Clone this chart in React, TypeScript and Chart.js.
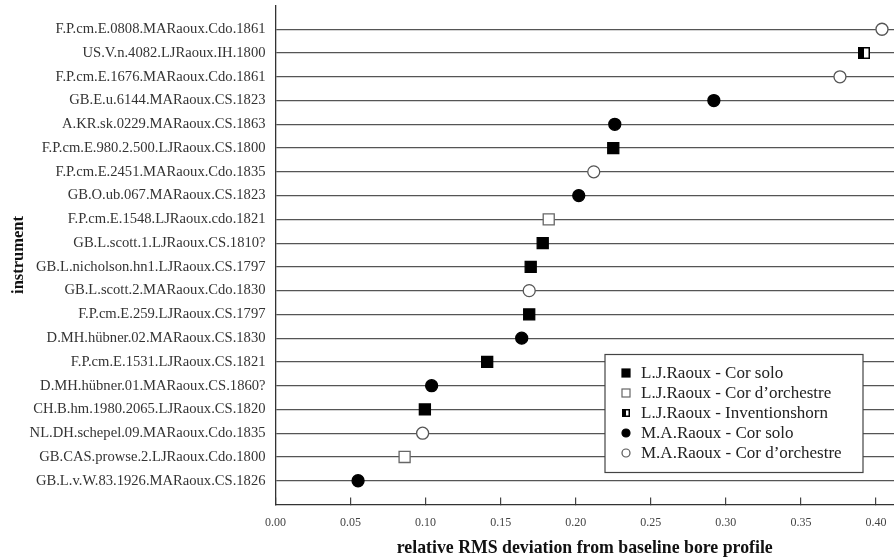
import React, { useEffect, useRef } from 'react';
import { Chart, registerables } from 'chart.js';

Chart.register(...registerables);

const instruments = [
  'F.P.cm.E.0808.MARaoux.Cdo.1861',
  'US.V.n.4082.LJRaoux.IH.1800',
  'F.P.cm.E.1676.MARaoux.Cdo.1861',
  'GB.E.u.6144.MARaoux.CS.1823',
  'A.KR.sk.0229.MARaoux.CS.1863',
  'F.P.cm.E.980.2.500.LJRaoux.CS.1800',
  'F.P.cm.E.2451.MARaoux.Cdo.1835',
  'GB.O.ub.067.MARaoux.CS.1823',
  'F.P.cm.E.1548.LJRaoux.cdo.1821',
  'GB.L.scott.1.LJRaoux.CS.1810?',
  'GB.L.nicholson.hn1.LJRaoux.CS.1797',
  'GB.L.scott.2.MARaoux.Cdo.1830',
  'F.P.cm.E.259.LJRaoux.CS.1797',
  'D.MH.hübner.02.MARaoux.CS.1830',
  'F.P.cm.E.1531.LJRaoux.CS.1821',
  'D.MH.hübner.01.MARaoux.CS.1860?',
  'CH.B.hm.1980.2065.LJRaoux.CS.1820',
  'NL.DH.schepel.09.MARaoux.Cdo.1835',
  'GB.CAS.prowse.2.LJRaoux.Cdo.1800',
  'GB.L.v.W.83.1926.MARaoux.CS.1826',
];

const deviations = [
  0.404, 0.392, 0.376, 0.292, 0.226, 0.225, 0.212, 0.202, 0.182, 0.178,
  0.170, 0.169, 0.169, 0.164, 0.141, 0.104, 0.0995, 0.098, 0.086, 0.055,
];

// index into seriesLabels for each instrument
const groups = [4, 2, 4, 3, 3, 0, 4, 3, 1, 0, 0, 4, 0, 3, 0, 3, 0, 4, 1, 3];

const seriesLabels = [
  'L.J.Raoux - Cor solo',
  'L.J.Raoux - Cor d’orchestre',
  'L.J.Raoux - Inventionshorn',
  'M.A.Raoux - Cor solo',
  'M.A.Raoux - Cor d’orchestre',
];

const xTicks = [0, 0.05, 0.1, 0.15, 0.2, 0.25, 0.3, 0.35, 0.4];

const FONT = '"Liberation Serif", "DejaVu Serif", serif';

type Style = { shape: 'rect' | 'circle' | 'half'; fill: string; stroke: string };
const seriesStyles: Style[] = [
  { shape: 'rect', fill: '#000', stroke: '#000' },
  { shape: 'rect', fill: '#fff', stroke: '#666' },
  { shape: 'half', fill: '#000', stroke: '#000' },
  { shape: 'circle', fill: '#000', stroke: '#000' },
  { shape: 'circle', fill: '#fff', stroke: '#555' },
];

function makeHalfSquare(size: number): HTMLCanvasElement {
  const c = document.createElement('canvas');
  c.width = size;
  c.height = size;
  const g = c.getContext('2d')!;
  g.fillStyle = '#fff';
  g.fillRect(0, 0, size, size);
  g.fillStyle = '#000';
  g.fillRect(0, 0, size / 2, size);
  g.strokeStyle = '#000';
  g.lineWidth = 1.5;
  g.strokeRect(0.75, 0.75, size - 1.5, size - 1.5);
  return c;
}

function drawMarker(ctx: CanvasRenderingContext2D, st: Style, x: number, y: number, s: number, half: HTMLCanvasElement) {
  ctx.save();
  ctx.lineWidth = 1.2;
  ctx.fillStyle = st.fill;
  ctx.strokeStyle = st.stroke;
  if (st.shape === 'rect') {
    ctx.fillRect(x - s / 2, y - s / 2, s, s);
    ctx.strokeRect(x - s / 2, y - s / 2, s, s);
  } else if (st.shape === 'circle') {
    ctx.beginPath();
    ctx.arc(x, y, s / 2, 0, Math.PI * 2);
    ctx.fill();
    ctx.stroke();
  } else {
    ctx.drawImage(half, x - s / 2, y - s / 2, s, s);
  }
  ctx.restore();
}

export default function App() {
  const ref = useRef<HTMLCanvasElement | null>(null);

  useEffect(() => {
    if (!ref.current) return;
    const half = makeHalfSquare(12);
    const halfSmall = makeHalfSquare(8);

    const datasets = seriesLabels.map((label, si) => {
      const st = seriesStyles[si];
      const data = instruments
        .map((_, i) => ({ x: deviations[i], y: i, g: groups[i] }))
        .filter((p) => p.g === si)
        .map((p) => ({ x: p.x, y: p.y }));
      return {
        label,
        data,
        pointStyle: st.shape === 'half' ? half : st.shape === 'rect' ? 'rect' : 'circle',
        pointRadius: st.shape === 'rect' ? 7.8 : 6,
        pointHoverRadius: st.shape === 'rect' ? 7.8 : 6,
        pointBackgroundColor: st.fill,
        pointBorderColor: st.stroke,
        pointBorderWidth: 1.3,
        backgroundColor: st.fill,
        borderColor: st.stroke,
        showLine: false,
        clip: false,
      };
    });

    const insetLegend = {
      id: 'insetLegend',
      afterDraw(chart: any) {
        const { ctx, chartArea } = chart;
        const w = 258;
        const h = 118;
        const right = chartArea.right - 31;
        const bottom = chartArea.bottom - 32;
        const left = right - w;
        const top = bottom - h;
        ctx.save();
        ctx.fillStyle = '#fff';
        ctx.fillRect(left, top, w, h);
        ctx.strokeStyle = '#444';
        ctx.lineWidth = 1.2;
        ctx.strokeRect(left, top, w, h);
        ctx.font = '17px ' + FONT;
        ctx.textBaseline = 'middle';
        ctx.textAlign = 'left';
        seriesLabels.forEach((label, i) => {
          const y = top + 18.5 + i * 20;
          drawMarker(ctx, seriesStyles[i], left + 21, y, 8, halfSmall);
          ctx.fillStyle = '#222';
          ctx.fillText(label, left + 36, y + 1);
        });
        ctx.restore();
      },
    };

    const chart = new Chart(ref.current, {
      type: 'scatter',
      data: { datasets: datasets as any },
      plugins: [insetLegend],
      options: {
        animation: false,
        responsive: false,
        layout: { autoPadding: false, padding: { top: 5.5, right: 0, bottom: 0, left: 0 } },
        plugins: { legend: { display: false }, tooltip: { enabled: false } },
        scales: {
          x: {
            type: 'linear',
            min: 0,
            max: 0.412,
            afterBuildTicks: (axis: any) => {
              axis.ticks = xTicks.map((v) => ({ value: v }));
            },
            afterFit: (axis: any) => {
              axis.height = 55.5;
              axis.paddingLeft = 0;
              axis.paddingRight = 0;
            },
            grid: {
              drawOnChartArea: false,
              drawTicks: true,
              tickLength: -7,
              tickColor: '#444',
              lineWidth: 1.2,
            },
            border: { display: true, color: '#333', width: 1.3 },
            ticks: {
              padding: 18,
              color: '#444',
              font: { family: FONT, size: 12 },
              callback: (v: any) => Number(v).toFixed(2),
            },
            title: {
              display: true,
              text: 'relative RMS deviation from baseline bore profile',
              color: '#111',
              font: { family: FONT, size: 17.8, weight: 'bold' },
              padding: { top: 0, bottom: 0.5 },
            },
          },
          y: {
            type: 'linear',
            reverse: true,
            min: -1,
            max: 20,
            afterBuildTicks: (axis: any) => {
              axis.ticks = instruments.map((_, i) => ({ value: i }));
            },
            afterFit: (axis: any) => {
              axis.width = 275.5;
              axis.paddingTop = 0;
              axis.paddingBottom = 0;
            },
            grid: {
              drawOnChartArea: true,
              drawTicks: false,
              color: '#555',
              lineWidth: 1.2,
            },
            border: { display: true, color: '#333', width: 1.3 },
            ticks: {
              padding: 10,
              color: '#333',
              autoSkip: false,
              font: { family: FONT, size: 14.6 },
              callback: (v: any) => instruments[Math.round(Number(v))] ?? '',
            },
            title: {
              display: true,
              text: 'instrument',
              color: '#111',
              font: { family: FONT, size: 16.5, weight: 'bold' },
              padding: { top: 9, bottom: 0 },
            },
          },
        },
      },
    });
    return () => chart.destroy();
  }, []);

  return (
    <canvas
      ref={ref}
      width={894}
      height={560}
      style={{ position: 'fixed', left: 0, top: 0, width: 894, height: 560 }}
    />
  );
}
